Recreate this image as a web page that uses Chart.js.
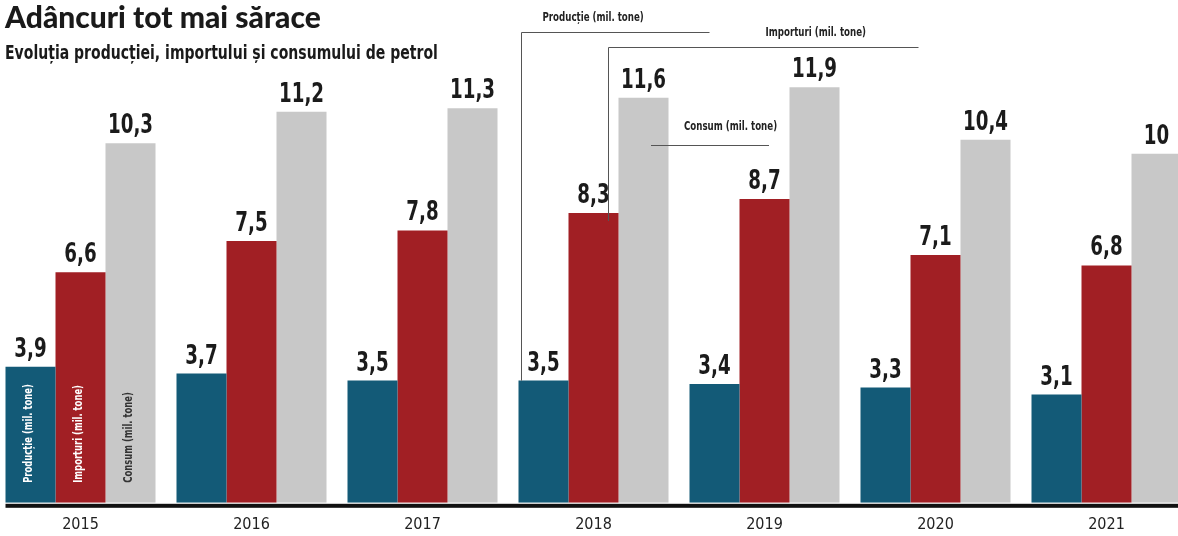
<!DOCTYPE html>
<html>
<head>
<meta charset="utf-8">
<script src="https://cdn.jsdelivr.net/npm/chart.js@4.4.1/dist/chart.umd.min.js"></script>
<style>
  html, body { margin: 0; padding: 0; background: #fff; overflow: hidden; }
  #wrap { position: absolute; left: -5px; top: 0; width: 1205px; height: 546px; }
</style>
</head>
<body>
<div id="wrap"><canvas id="chart_petrol"></canvas></div>
<script>
// data (mil. tone)
const years = ['2015', '2016', '2017', '2018', '2019', '2020', '2021'];
const productie = [3.9, 3.7, 3.5, 3.5, 3.4, 3.3, 3.1];
const importuri = [6.6, 7.5, 7.8, 8.3, 8.7, 7.1, 6.8];
const consum = [10.3, 11.2, 11.3, 11.6, 11.9, 10.4, 10];
const seriesNames = ['Producție (mil. tone)', 'Importuri (mil. tone)', 'Consum (mil. tone)'];

const narrow = '"DejaVu Sans Condensed", "DejaVu Sans", sans-serif';
const SHIFT = 5; // canvas is pushed 5px to the left of the window

function fmt(v) {
    return String(v).replace('.', ',');
}

// the print uses a condensed face, so squeeze the text horizontally
function squeezed(ctx, text, x, y, sx) {
    ctx.save();
    ctx.translate(x, y);
    ctx.scale(sx, 1);
    ctx.fillText(text, 0, 0);
    ctx.restore();
}

const overlayPlugin = {
    id: 'overlay',
    afterDatasetsDraw: (chart) => {
        const ctx = chart.ctx;
        const area = chart.chartArea;
        ctx.save();

        // thick base line
        const first = chart.getDatasetMeta(0).data[0];
        ctx.fillStyle = '#111';
        ctx.fillRect(first.x - first.width / 2, area.bottom + 1, chart.width, 4);

        // value labels above bars
        ctx.font = 'bold 26px ' + narrow;
        ctx.textAlign = 'center';
        ctx.textBaseline = 'alphabetic';
        ctx.fillStyle = '#1b1b1b';
        chart.data.datasets.forEach((ds, i) => {
            chart.getDatasetMeta(i).data.forEach((bar, j) => {
                squeezed(ctx, fmt(ds.data[j]), bar.x, bar.y - 10, 0.78);
            });
        });

        // series names inside the 2015 bars
        ctx.font = 'bold 13px ' + narrow;
        ctx.textAlign = 'left';
        ctx.textBaseline = 'middle';
        const inColors = ['#ffffff', '#ffffff', '#333333'];
        for (let i = 0; i < 3; i++) {
            const bar = chart.getDatasetMeta(i).data[0];
            ctx.save();
            ctx.translate(bar.x - 2, area.bottom - 20);
            ctx.rotate(-Math.PI / 2);
            ctx.fillStyle = inColors[i];
            squeezed(ctx, seriesNames[i], 0, 0, 0.72);
            ctx.restore();
        }

        // callouts on 2018
        ctx.strokeStyle = '#555';
        ctx.lineWidth = 1;
        ctx.fillStyle = '#222';
        ctx.font = 'bold 13px ' + narrow;
        ctx.textBaseline = 'middle';

        const p = chart.getDatasetMeta(0).data[3];
        const px = Math.round(p.x - p.width / 2 + 2) + 0.5;
        ctx.beginPath();
        ctx.moveTo(px + 188, 32.5);
        ctx.lineTo(px, 32.5);
        ctx.lineTo(px, p.y);
        ctx.stroke();
        squeezed(ctx, seriesNames[0], px + 21, 18, 0.74);

        const r = chart.getDatasetMeta(1).data[3];
        const rx = Math.round(r.x + 14) + 0.5;
        ctx.beginPath();
        ctx.moveTo(rx + 310, 47.5);
        ctx.lineTo(rx, 47.5);
        ctx.lineTo(rx, r.y + 8);
        ctx.stroke();
        squeezed(ctx, seriesNames[1], rx + 157, 33, 0.74);

        const g = chart.getDatasetMeta(2).data[3];
        const gx = Math.round(g.x + 8);
        ctx.beginPath();
        ctx.moveTo(gx, 145.5);
        ctx.lineTo(gx + 118, 145.5);
        ctx.stroke();
        squeezed(ctx, seriesNames[2], gx + 33, 127, 0.74);

        // title and subtitle
        ctx.textAlign = 'left';
        ctx.textBaseline = 'alphabetic';
        ctx.fillStyle = '#1a1a1a';
        ctx.font = '900 30px Lato, "Liberation Sans", sans-serif';
        ctx.fillText('Adâncuri tot mai sărace', 5 + SHIFT, 28);
        ctx.font = 'bold 20px ' + narrow;
        squeezed(ctx, 'Evoluția producției, importului și consumului de petrol', 5 + SHIFT, 59, 0.78);

        ctx.restore();
    }
};

const chart_petrol = new Chart(document.getElementById('chart_petrol'), {
    type: 'bar',
    data: {
        labels: years,
        datasets: [
            { label: seriesNames[0], data: productie, backgroundColor: '#135a77' },
            { label: seriesNames[1], data: importuri, backgroundColor: '#a11f24' },
            { label: seriesNames[2], data: consum, backgroundColor: '#c8c8c8' }
        ]
    },
    options: {
        animation: false,
        responsive: true,
        maintainAspectRatio: false,
        categoryPercentage: 150 / 171,
        barPercentage: 1,
        layout: {
            padding: { left: 0, right: 8, top: 14, bottom: 0 }
        },
        plugins: {
            legend: { display: false },
            tooltip: { enabled: false }
        },
        scales: {
            x: {
                grid: { display: false, drawTicks: false },
                border: { display: false },
                ticks: {
                    color: '#222',
                    padding: 12,
                    font: { family: narrow, size: 16 }
                }
            },
            y: {
                display: false,
                min: 0,
                max: 14
            }
        }
    },
    plugins: [overlayPlugin]
});
</script>
</body>
</html>
